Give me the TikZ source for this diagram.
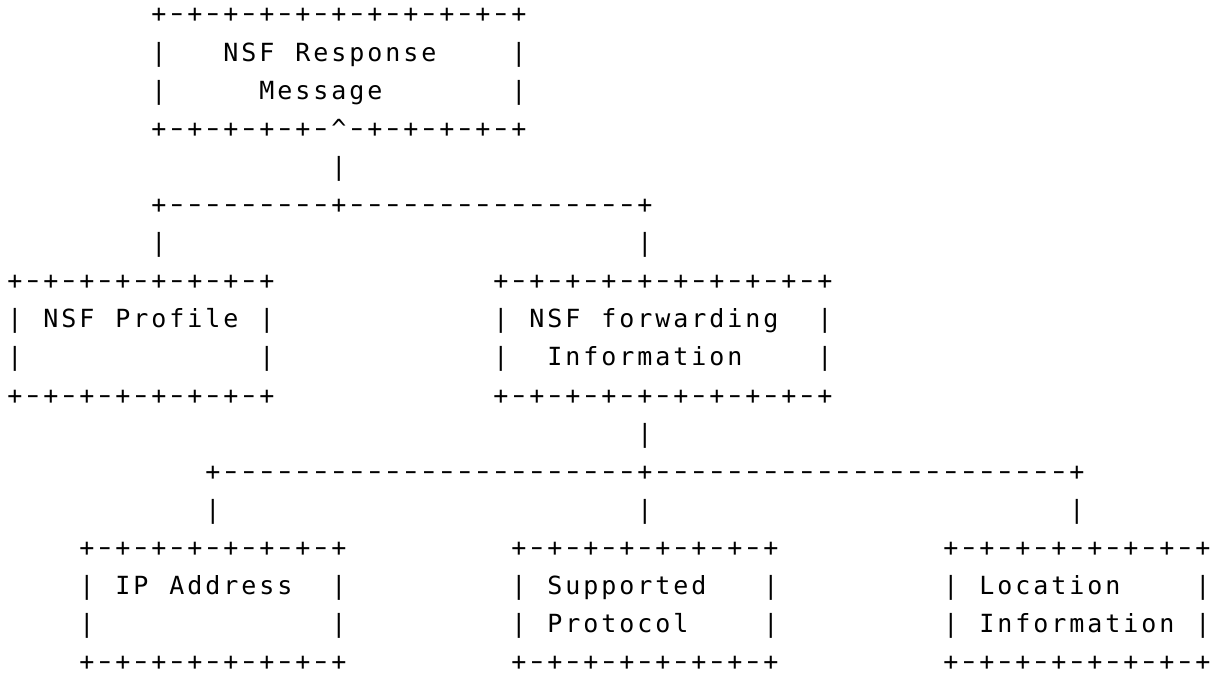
\documentclass[tikz,border=0pt]{standalone}
\usepackage{fontspec}
\newfontfamily\asciifont{DejaVu Sans Mono}
\newlength\cw \setlength\cw{18pt}
\makeatletter
\def\spreadchars#1{\spread@a#1\relax}
\def\spread@a#1{\ifx#1\relax\else\spread@b#1\expandafter\spread@a\fi}
\def\spread@b#1{\ifx#1-\makebox[\cw]{\raisebox{1pt}{\scalebox{1.5}[1]{-}}}\else\makebox[\cw]{#1}\fi}
\makeatother
\tikzset{asc/.style={anchor=base west, inner sep=0pt, outer sep=0pt,
  text height=19pt, text depth=0pt,
  font=\asciifont\fontsize{25}{25}\selectfont, text=black}}
% #1 name, #2 column, #3 row, #4 characters (~ = blank)
\newcommand\Aline[4]{\node[asc] (#1) at ({6+18*#2},{-23-38.1*#3}) {\spreadchars{#4}};}
\begin{document}
\begin{tikzpicture}[x=1pt,y=1pt]
\fill[white] (0,0) rectangle (1220,-674);
\useasboundingbox (0,0) rectangle (1220,-674);
% NSF Response Message box
\Aline{respTop}{8}{0}{+-+-+-+-+-+-+-+-+-+-+}
\Aline{respL1}{8}{1}{|~~~NSF~Response~~~~|}
\Aline{respL2}{8}{2}{|~~~~~Message~~~~~~~|}
\Aline{respBot}{8}{3}{+-+-+-+-+-\textasciicircum-+-+-+-+-+}
\Aline{respStem}{18}{4}{|}
\Aline{branchA}{8}{5}{+---------+----------------+}
\Aline{dropProf}{8}{6}{|}
\Aline{dropFwd}{35}{6}{|}
% NSF Profile box
\Aline{profTop}{0}{7}{+-+-+-+-+-+-+-+}
\Aline{profL1}{0}{8}{|~NSF~Profile~|}
\Aline{profL2a}{0}{9}{|}
\Aline{profL2b}{14}{9}{|}
\Aline{profBot}{0}{10}{+-+-+-+-+-+-+-+}
% NSF forwarding Information box
\Aline{fwdTop}{27}{7}{+-+-+-+-+-+-+-+-+-+}
\Aline{fwdL1}{27}{8}{|~NSF~forwarding~~|}
\Aline{fwdL2}{27}{9}{|~~Information~~~~|}
\Aline{fwdBot}{27}{10}{+-+-+-+-+-+-+-+-+-+}
\Aline{fwdStem}{35}{11}{|}
\Aline{branchB}{11}{12}{+-----------------------+-----------------------+}
\Aline{dropIP}{11}{13}{|}
\Aline{dropSup}{35}{13}{|}
\Aline{dropLoc}{59}{13}{|}
% IP Address box
\Aline{ipTop}{4}{14}{+-+-+-+-+-+-+-+}
\Aline{ipL1}{4}{15}{|~IP~Address~~|}
\Aline{ipL2a}{4}{16}{|}
\Aline{ipL2b}{18}{16}{|}
\Aline{ipBot}{4}{17}{+-+-+-+-+-+-+-+}
% Supported Protocol box
\Aline{supTop}{28}{14}{+-+-+-+-+-+-+-+}
\Aline{supL1}{28}{15}{|~Supported~~~|}
\Aline{supL2}{28}{16}{|~Protocol~~~~|}
\Aline{supBot}{28}{17}{+-+-+-+-+-+-+-+}
% Location Information box
\Aline{locTop}{52}{14}{+-+-+-+-+-+-+-+}
\Aline{locL1}{52}{15}{|~Location~~~~|}
\Aline{locL2}{52}{16}{|~Information~|}
\Aline{locBot}{52}{17}{+-+-+-+-+-+-+-+}
\end{tikzpicture}
\end{document}
